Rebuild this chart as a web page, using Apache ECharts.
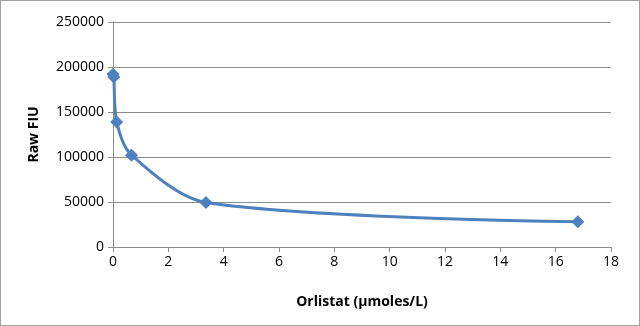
<!DOCTYPE html>
<html><head><meta charset="utf-8">
<script src="https://cdn.jsdelivr.net/npm/echarts@6/dist/echarts.min.js"></script>
<style>html,body{margin:0;padding:0;background:#fff}#c{width:638px;height:324px;border:1px solid #a0a0a0}</style>
</head><body><div id="c"></div>
<script>
const concentrations = [0, 0.027, 0.134, 0.672, 3.36, 16.8];
const rawFIU = [192000, 189000, 139000, 102000, 49500, 28000];
const xTicks = [0, 2, 4, 6, 8, 10, 12, 14, 16, 18];
const yTicks = [0, 50000, 100000, 150000, 200000, 250000];

const chart = echarts.init(document.getElementById('c'));
const font = '"Open Sans", "Liberation Sans", sans-serif';
chart.setOption({
  animation: false,
  grid: {left: 112, right: 28, top: 21, bottom: 78},
  xAxis: {
    type: 'value', min: xTicks[0], max: xTicks[xTicks.length-1], interval: 2,
    axisLine: {show: true, lineStyle: {color: '#8c8c8c', width: 1}},
    axisTick: {show: true, length: 5, lineStyle: {color: '#8c8c8c'}},
    splitLine: {show: false},
    axisLabel: {color: '#000', fontFamily: font, fontSize: 14, margin: 8, formatter: v => String(v)},
    name: 'Orlistat (µmoles/L)', nameLocation: 'middle', nameGap: 48,
    nameTextStyle: {color: '#000', fontFamily: font, fontSize: 14, fontWeight: 'bold'}
  },
  yAxis: {
    type: 'value', min: yTicks[0], max: yTicks[yTicks.length-1], interval: 50000,
    axisLine: {show: true, lineStyle: {color: '#8c8c8c', width: 1}},
    axisTick: {show: true, length: 5, lineStyle: {color: '#8c8c8c'}},
    splitLine: {show: true, lineStyle: {color: '#8c8c8c', width: 1}},
    axisLabel: {color: '#000', fontFamily: font, fontSize: 14, margin: 9, formatter: v => String(v)},
    name: 'Raw FIU', nameLocation: 'middle', nameGap: 72, nameRotate: 90,
    nameTextStyle: {color: '#000', fontFamily: font, fontSize: 14, fontWeight: 'bold'}
  },
  series: [{
    type: 'line',
    data: concentrations.map((x, i) => [x, rawFIU[i]]),
    smooth: 0.3,
    symbol: 'diamond', symbolSize: 13,
    lineStyle: {color: '#4f81bd', width: 3},
    itemStyle: {color: '#4f81bd'}
  }]
});
</script></body></html>
